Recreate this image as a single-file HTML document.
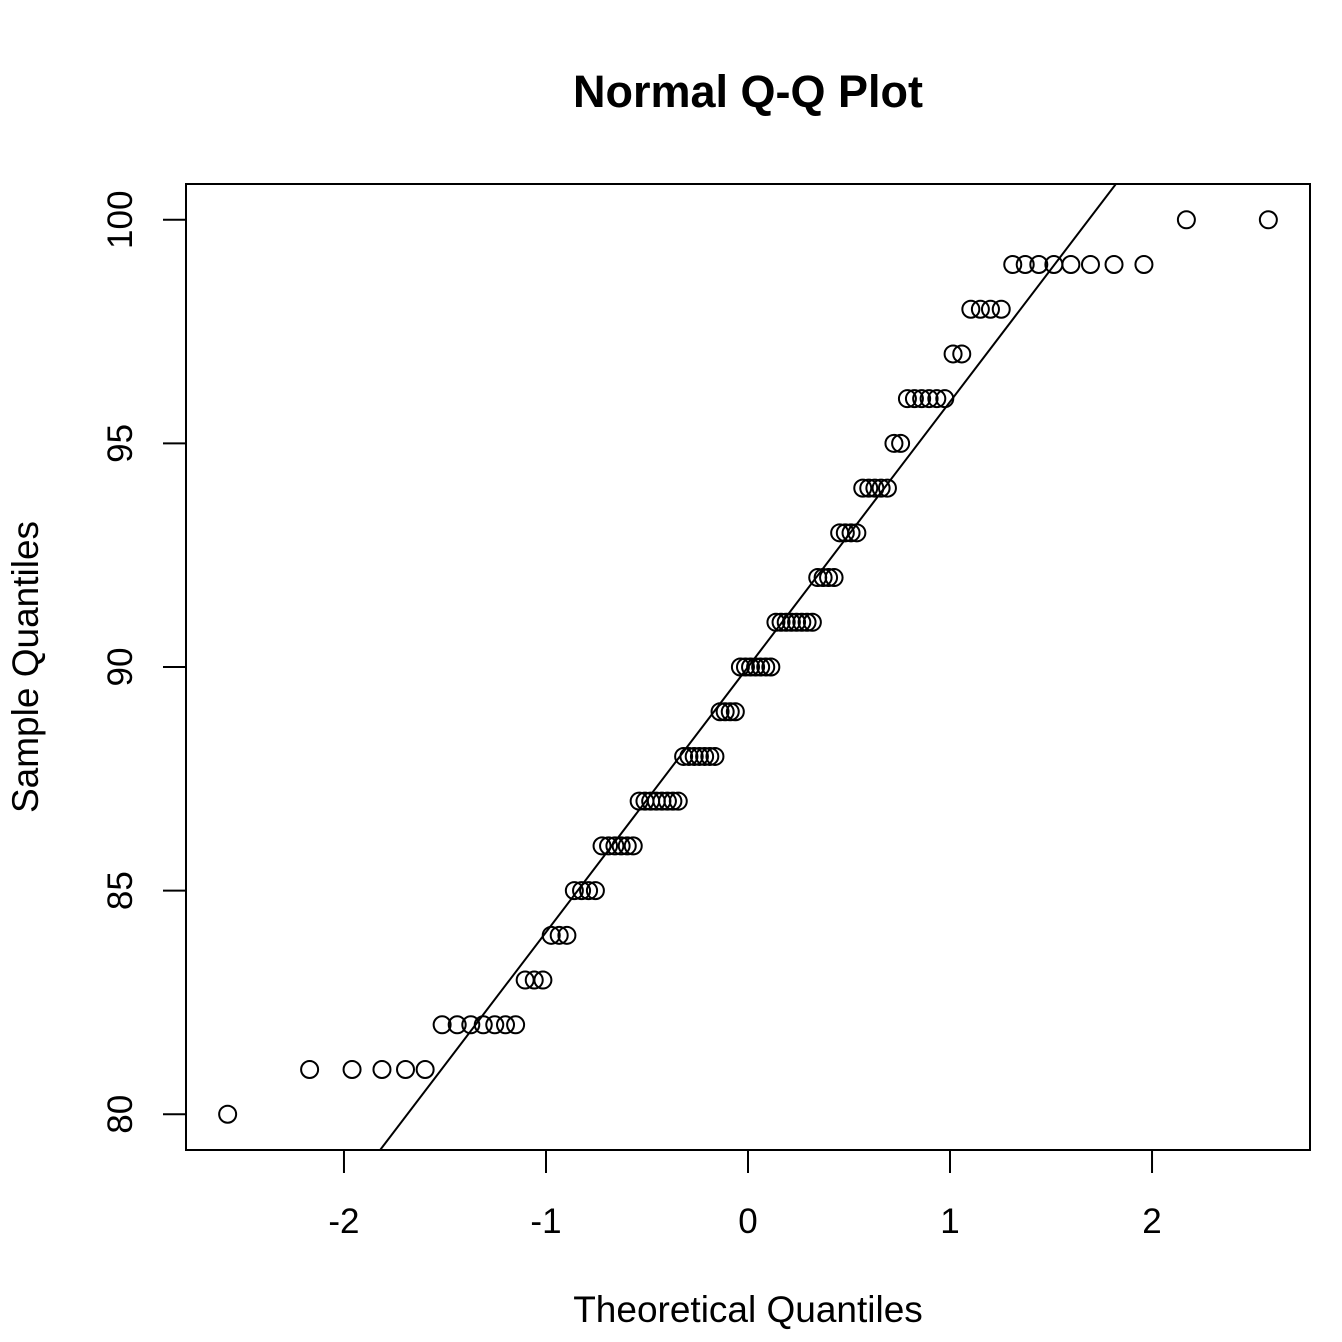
<!DOCTYPE html>
<html><head><meta charset="utf-8"><style>
html,body{margin:0;padding:0;background:#fff;}
svg{display:block;font-family:"Liberation Sans",Arial,sans-serif;}
</style></head><body>
<svg id="chart" width="1342" height="1342" viewBox="0 0 1342 1342" xmlns="http://www.w3.org/2000/svg">
<rect width="1342" height="1342" fill="#fff"/>
<text x="748" y="107" text-anchor="middle" font-size="45" font-weight="bold">Normal Q-Q Plot</text>
<text x="748" y="1322" text-anchor="middle" font-size="37">Theoretical Quantiles</text>
<text transform="translate(38,667) rotate(-90)" text-anchor="middle" font-size="37">Sample Quantiles</text>
<rect x="186" y="184" width="1124" height="966" fill="none" stroke="#000" stroke-width="2"/>
<g id="axes"></g>
<g id="line"></g>
<g id="points"></g>
</svg>
<script>
const sampleValues = [80,81,82,83,84,85,86,87,88,89,90,91,92,93,94,95,96,97,98,99,100];
const sampleCounts = [1,5,7,3,3,4,6,8,7,4,7,8,4,4,5,2,6,2,4,8,2];
const xTicks = [-2,-1,0,1,2];
const yTicks = [80,85,90,95,100];

const NS = "http://www.w3.org/2000/svg";
const X0 = 186, X1 = 1310, Y0 = 1150, Y1 = 184;
const xMin = -2.782, xMax = 2.782, yMin = 79.2, yMax = 100.8;
function sx(v){ return X0 + (v - xMin) / (xMax - xMin) * (X1 - X0); }
function sy(v){ return Y0 - (v - yMin) / (yMax - yMin) * (Y0 - Y1); }

function qnorm(p){
  const a=[-39.69683028665376,220.9460984245205,-275.9285104469687,138.3577518672690,-30.66479806614716,2.506628277459239];
  const b=[-54.47609879822406,161.5858368580409,-155.6989798598866,66.80131188771972,-13.28068155288572];
  const c=[-0.007784894002430293,-0.3223964580411365,-2.400758277161838,-2.549732539343734,4.374664141464968,2.938163982698783];
  const d=[0.007784695709041462,0.3224671290700398,2.445134137142996,3.754408661907416];
  const pl=0.02425;
  let q,r;
  if(p<pl){q=Math.sqrt(-2*Math.log(p));return (((((c[0]*q+c[1])*q+c[2])*q+c[3])*q+c[4])*q+c[5])/((((d[0]*q+d[1])*q+d[2])*q+d[3])*q+1);}
  if(p>1-pl){q=Math.sqrt(-2*Math.log(1-p));return -(((((c[0]*q+c[1])*q+c[2])*q+c[3])*q+c[4])*q+c[5])/((((d[0]*q+d[1])*q+d[2])*q+d[3])*q+1);}
  q=p-0.5;r=q*q;
  return (((((a[0]*r+a[1])*r+a[2])*r+a[3])*r+a[4])*r+a[5])*q/(((((b[0]*r+b[1])*r+b[2])*r+b[3])*r+b[4])*r+1);
}

const sorted = [];
sampleValues.forEach((v,i)=>{ for(let k=0;k<sampleCounts[i];k++) sorted.push(v); });
const n = sorted.length;
const aa = n <= 10 ? 3/8 : 0.5;

const axes = document.getElementById('axes');
xTicks.forEach(t=>{
  const x = sx(t);
  const l = document.createElementNS(NS,'line');
  l.setAttribute('x1',x); l.setAttribute('x2',x); l.setAttribute('y1',Y0); l.setAttribute('y2',Y0+23);
  l.setAttribute('stroke','#000'); l.setAttribute('stroke-width','2');
  
  
  axes.appendChild(l);
  const tx = document.createElementNS(NS,'text');
  tx.setAttribute('x',x); tx.setAttribute('y',1233); tx.setAttribute('text-anchor','middle'); tx.setAttribute('font-size','35');
  tx.textContent = t;
  
  
  axes.appendChild(tx);
});
yTicks.forEach(t=>{
  const y = sy(t);
  const l = document.createElementNS(NS,'line');
  l.setAttribute('x1',X0-23); l.setAttribute('x2',X0); l.setAttribute('y1',y); l.setAttribute('y2',y);
  l.setAttribute('stroke','#000'); l.setAttribute('stroke-width','2');
  
  
  axes.appendChild(l);
  const tx = document.createElementNS(NS,'text');
  tx.setAttribute('transform','translate(132,'+y+') rotate(-90)'); tx.setAttribute('text-anchor','middle'); tx.setAttribute('font-size','35');
  tx.textContent = t;
  
  
  axes.appendChild(tx);
});

function quant(p){ const h=(n-1)*p, lo=Math.floor(h); return sorted[lo]+(h-lo)*((sorted[Math.min(lo+1,n-1)])-sorted[lo]); }
const q1=quant(0.25), q3=quant(0.75), z1=qnorm(0.25), z3=qnorm(0.75);
const slope=(q3-q1)/(z3-z1), icpt=q1-slope*z1;
const clip = document.createElementNS(NS,'clipPath'); clip.setAttribute('id','pc');
const cr = document.createElementNS(NS,'rect'); cr.setAttribute('x',X0); cr.setAttribute('y',Y1); cr.setAttribute('width',X1-X0); cr.setAttribute('height',Y0-Y1);
clip.appendChild(cr); document.getElementById('chart').appendChild(clip);
const ql = document.createElementNS(NS,'line');
ql.setAttribute('x1',sx(xMin)); ql.setAttribute('y1',sy(icpt+slope*xMin));
ql.setAttribute('x2',sx(xMax)); ql.setAttribute('y2',sy(icpt+slope*xMax));
ql.setAttribute('stroke','#000'); ql.setAttribute('stroke-width','2'); ql.setAttribute('clip-path','url(#pc)');


document.getElementById('line').appendChild(ql);

const pts = document.getElementById('points');
sorted.forEach((v,i)=>{
  const z = qnorm((i+1-aa)/(n+1-2*aa));
  const c = document.createElementNS(NS,'circle');
  c.setAttribute('cx',sx(z)); c.setAttribute('cy',sy(v)); c.setAttribute('r','8.5');
  c.setAttribute('fill','none'); c.setAttribute('stroke','#000'); c.setAttribute('stroke-width','2');
  
  
  pts.appendChild(c);
});
</script>
</body></html>
